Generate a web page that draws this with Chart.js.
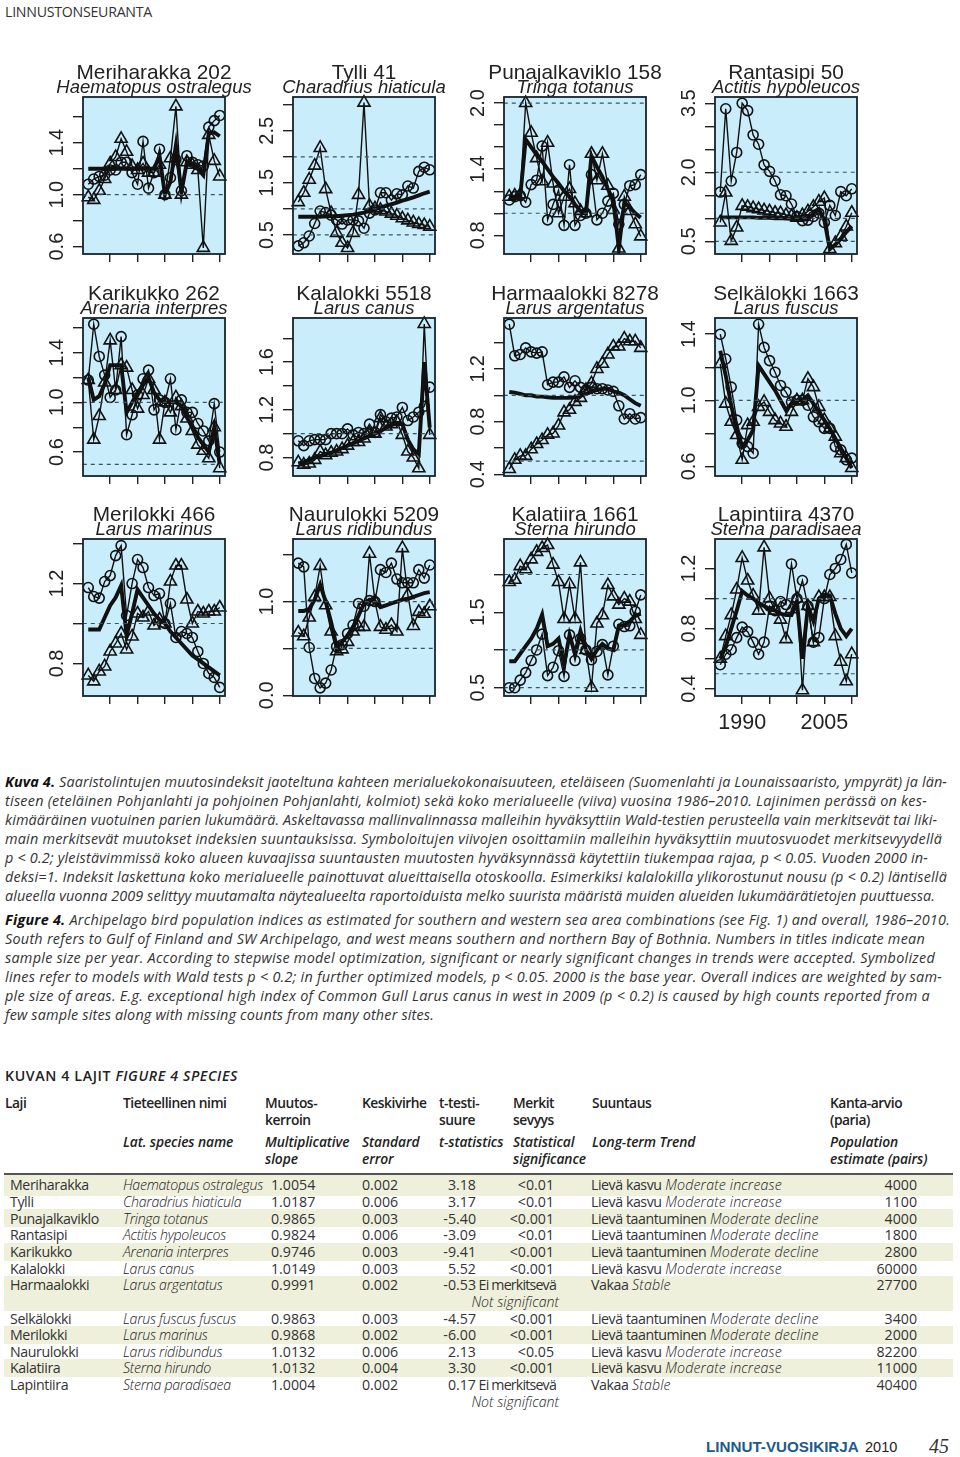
<!DOCTYPE html>
<html>
<head>
<meta charset="utf-8">
<script src="https://cdn.jsdelivr.net/npm/chart.js@4"></script>
<style>
  html, body { margin: 0; padding: 0; background: #fff; }
  #page { position: relative; width: 960px; height: 1457px; overflow: hidden; background: #fff; }
  #page canvas { position: absolute; }
  .t { position: absolute; white-space: nowrap; font-family: "Open Sans", sans-serif; color: #333; transform: translateY(-50%); line-height: 1; }
  .r { transform: translate(-100%, -50%); }
  .cap { font-size: 14.4px; font-style: italic; font-weight: 400; color: #333; }
  .cap b { font-weight: 700; color: #111; }
  .cell { font-size: 14.2px; color: #333; }
  .name { letter-spacing: -0.4px; }
  .it { font-style: italic; font-weight: 300; color: #222; }
  .latin { letter-spacing: -0.3px; }
  .tr-fi { letter-spacing: -0.45px; }
  .tr-en { font-style: italic; font-weight: 300; letter-spacing: 0.15px; color: #222; }
  .sig { letter-spacing: -0.8px; }
  .head { font-size: 13.8px; font-weight: 600; color: #222; letter-spacing: -0.45px; }
  .head i { letter-spacing: -0.1px; }
  .band { position: absolute; left: 4px; width: 949px; background: #eef0dc; }
</style>
</head>
<body>
<div id="page"></div>
<script>
const years = [1986, 1987, 1988, 1989, 1990, 1991, 1992, 1993, 1994, 1995, 1996, 1997, 1998, 1999, 2000, 2001, 2002, 2003, 2004, 2005, 2006, 2007, 2008, 2009, 2010];
const xTicks = [1990, 1995, 2000, 2005, 2010];
const xLabels = ['1990', '2005'];

const panelNames = ['Meriharakka 202', 'Tylli 41', 'Punajalkaviklo 158', 'Rantasipi 50', 'Karikukko 262', 'Kalalokki 5518', 'Harmaalokki 8278', 'Selkälokki 1663', 'Merilokki 466', 'Naurulokki 5209', 'Kalatiira 1661', 'Lapintiira 4370'];
const panelLatin = ['Haematopus ostralegus', 'Charadrius hiaticula', 'Tringa totanus', 'Actitis hypoleucos', 'Arenaria interpres', 'Larus canus', 'Larus argentatus', 'Larus fuscus', 'Larus marinus', 'Larus ridibundus', 'Sterna hirundo', 'Sterna paradisaea'];

// circles = south, triangles = west, thick line = overall
const meriharakkaSouth = [1.08, 1.12, 1.14, 1.15, 1.19, 1.19, 1.25, 1.25, 1.17, 1.08, 1.41, 1.05, 1.17, 1.35, 1.0, 1.13, 1.27, 1.03, 1.30, 1.25, 1.23, 1.22, 1.52, 1.57, 1.61];
const meriharakkaWest = [0.98, 0.96, 1.03, 1.12, 1.24, 1.29, 1.43, 1.33, 1.22, 1.19, 1.24, 1.17, 1.17, 1.23, 1.0, 1.28, 1.68, 1.0, 1.25, 1.23, 1.19, 0.59, 1.46, 1.26, 1.14];
const meriharakkaAll = [1.2, 1.2, 1.2, 1.2, 1.2, 1.2, 1.2, 1.2, 1.2, 1.2, 1.2, 1.2, 1.2, 1.3, 1.0, 1.1, 1.38, 1.02, 1.25, 1.23, 1.2, 1.15, 1.47, 1.48, 1.45];

const tylliSouth = [0.29, 0.35, 0.48, 0.72, 0.96, 0.93, 0.88, 0.79, 0.71, 0.79, 0.79, 0.77, 0.63, 0.92, 0.98, 1.31, 1.31, 1.17, 1.29, 1.27, 1.44, 1.40, 1.72, 1.80, 1.75];
const tylliWest = [1.13, 1.31, 1.56, 1.83, 2.17, 1.38, 0.92, 0.54, 0.35, 0.25, 0.54, 1.27, 3.04, 1.06, 1.01, 0.98, 0.95, 0.91, 0.87, 0.82, 0.78, 0.74, 0.71, 0.69, 0.66];
const tylliAll = [0.85, 0.85, 0.85, 0.85, 0.85, 0.86, 0.86, 0.86, 0.87, 0.88, 0.89, 0.91, 0.93, 0.96, 0.99, 1.03, 1.06, 1.09, 1.12, 1.16, 1.19, 1.22, 1.26, 1.3, 1.33];

const punajalkaSouth = [1.12, 1.15, 1.16, 1.10, 1.26, 1.30, 1.61, 0.94, 1.08, 1.21, 0.89, 1.44, 0.89, 0.98, 1.0, 1.35, 0.94, 1.0, 1.11, 1.18, 0.9, 1.08, 1.25, 1.26, 1.35];
const punajalkaWest = [1.15, 1.16, 1.17, 2.0, 1.73, 1.5, 1.29, 1.64, 1.27, 1.0, 1.15, 1.22, 1.09, 1.02, 1.0, 1.54, 1.30, 1.54, 1.25, 1.03, 0.68, 1.15, 1.02, 0.9, 0.79];
const punajalkaAll = [1.15, 1.15, 1.15, 1.67, 1.6, 1.53, 1.47, 1.4, 1.33, 1.27, 1.2, 1.15, 1.08, 1.02, 1.0, 1.52, 1.42, 1.33, 1.22, 1.12, 0.68, 1.1, 1.05, 1.0, 0.96];

const rantasipiSouth = [1.57, 3.38, 1.81, 2.43, 3.5, 3.34, 2.81, 2.61, 2.16, 2.02, 1.81, 1.51, 1.49, 1.31, 1.04, 0.95, 0.96, 1.04, 1.11, 0.91, 1.28, 1.06, 1.58, 1.49, 1.64];
const rantasipiWest = [0.91, 1.56, 0.51, 0.8, 1.27, 1.25, 1.22, 1.2, 1.17, 1.15, 1.12, 1.11, 1.07, 1.05, 1.01, 1.07, 1.15, 1.25, 1.36, 1.44, 0.33, 0.46, 0.6, 0.82, 1.12];
const rantasipiAll = [1.02, 1.02, 1.02, 1.02, 1.02, 1.02, 1.02, 1.01, 1.01, 1.01, 1.0, 1.0, 1.0, 0.99, 0.98, 0.97, 0.97, 1.1, 1.2, 0.96, 0.33, 0.43, 0.55, 0.7, 0.83];

const karikukkoSouth = [1.18, 1.63, 1.37, 1.22, 1.04, 1.10, 1.53, 0.74, 0.9, 1.06, 1.19, 1.26, 0.94, 1.02, 1.0, 1.19, 0.78, 1.02, 0.92, 0.92, 0.83, 0.77, 0.69, 0.99, 0.6];
const karikukkoWest = [1.18, 0.7, 0.89, 1.16, 1.5, 1.1, 1.3, 1.28, 1.1, 0.95, 1.06, 1.19, 1.1, 0.7, 1.0, 0.92, 1.04, 0.97, 0.87, 0.77, 0.66, 0.61, 0.55, 0.8, 0.47];
const karikukkoAll = [1.2, 1.02, 1.05, 1.15, 1.3, 1.3, 1.3, 0.92, 1.0, 1.08, 1.14, 1.2, 1.08, 1.02, 1.0, 1.0, 1.0, 0.97, 0.88, 0.8, 0.72, 0.66, 0.6, 0.8, 0.5];

const kalalokkiSouth = [0.94, 0.9, 0.94, 0.95, 0.95, 0.95, 1.0, 1.0, 1.0, 1.04, 0.99, 1.01, 1.0, 1.08, 1.01, 1.16, 1.1, 1.13, 1.14, 1.22, 1.11, 1.14, 1.18, 1.23, 1.39];
const kalalokkiWest = [0.76, 0.74, 0.75, 0.78, 0.85, 0.82, 0.84, 0.85, 0.87, 0.9, 0.93, 0.93, 0.96, 1.0, 1.0, 1.13, 1.06, 1.08, 1.1, 0.99, 0.85, 0.8, 0.71, 1.92, 0.99];
const kalalokkiAll = [0.75, 0.76, 0.78, 0.8, 0.81, 0.83, 0.84, 0.86, 0.88, 0.9, 0.92, 0.94, 0.96, 0.98, 1.0, 1.02, 1.05, 1.07, 1.09, 1.08, 0.95, 0.87, 0.83, 1.6, 1.05];

const harmaalokkiSouth = [1.54, 1.3, 1.31, 1.36, 1.33, 1.32, 1.33, 1.08, 1.1, 1.1, 1.14, 1.06, 1.11, 1.06, 1.04, 1.06, 1.05, 1.05, 1.04, 1.03, 0.92, 0.82, 0.86, 0.82, 0.83];
const harmaalokkiWest = [0.44, 0.51, 0.54, 0.54, 0.59, 0.63, 0.66, 0.7, 0.71, 0.77, 0.87, 0.89, 0.95, 0.98, 1.04, 1.09, 1.2, 1.24, 1.31, 1.37, 1.37, 1.43, 1.41, 1.41, 1.36];
const harmaalokkiAll = [1.025, 1.02, 1.01, 1.0, 1.0, 0.99, 0.99, 0.985, 0.98, 0.98, 0.98, 0.98, 0.985, 0.995, 1.01, 1.03, 1.04, 1.05, 1.05, 1.03, 1.02, 1.0, 0.97, 0.94, 0.92];

const selkalokkiSouth = [1.4, 1.25, 1.08, 0.88, 0.74, 0.72, 0.68, 1.46, 1.32, 1.24, 1.17, 1.09, 1.05, 0.99, 1.0, 1.0, 0.97, 0.9, 0.87, 0.83, 0.83, 0.72, 0.7, 0.64, 0.65];
const selkalokkiWest = [1.22, 0.98, 0.87, 0.79, 0.64, 0.85, 0.87, 0.96, 0.99, 0.93, 0.88, 0.86, 0.84, 0.93, 1.0, 1.0, 1.13, 1.08, 0.96, 0.88, 0.83, 0.78, 0.68, 0.65, 0.59];
const selkalokkiAll = [1.3, 1.15, 0.97, 0.82, 0.72, 0.76, 0.82, 1.21, 1.16, 1.11, 1.06, 1.0, 0.94, 0.98, 1.0, 1.0, 1.03, 0.98, 0.93, 0.88, 0.83, 0.77, 0.71, 0.65, 0.59];

const merilokkiSouth = [1.18, 1.135, 1.127, 1.21, 1.24, 1.34, 1.39, 1.04, 1.2, 1.32, 1.28, 1.18, 1.14, 1.15, 1.0, 1.1, 0.93, 0.96, 0.95, 0.93, 0.86, 0.8, 0.75, 0.73, 0.68];
const merilokkiWest = [0.74, 0.71, 0.76, 0.785, 0.86, 0.9, 0.95, 0.87, 0.935, 1.05, 1.03, 1.06, 0.99, 1.02, 1.0, 1.21, 1.29, 1.29, 1.12, 1.0, 1.06, 1.05, 1.06, 1.06, 1.08];
const merilokkiAll = [0.97, 0.97, 0.97, 1.03, 1.09, 1.13, 1.19, 0.94, 1.05, 1.17, 1.13, 1.09, 1.05, 1.02, 1.0, 0.96, 0.93, 0.9, 0.87, 0.84, 0.82, 0.8, 0.78, 0.76, 0.74];

const naurulokkiSouth = [1.41, 1.37, 0.51, 0.18, 0.08, 0.13, 0.27, 0.52, 0.54, 0.66, 0.75, 0.98, 0.95, 1.01, 1.0, 1.34, 1.31, 1.41, 1.24, 1.2, 1.2, 1.2, 1.34, 1.25, 1.39];
const naurulokkiWest = [0.67, 0.63, 0.83, 1.05, 1.38, 0.96, 0.68, 0.47, 0.49, 0.57, 0.68, 0.73, 0.73, 1.51, 1.0, 0.73, 0.7, 0.75, 0.68, 1.57, 1.07, 0.74, 0.89, 0.87, 0.95];
const naurulokkiAll = [0.9, 0.9, 0.92, 1.02, 1.18, 1.0, 0.78, 0.52, 0.57, 0.64, 0.72, 0.85, 0.98, 1.02, 1.0, 0.94, 0.96, 0.98, 1.0, 1.02, 1.03, 1.05, 1.07, 1.09, 1.1];

const kalatiiraSouth = [0.5, 0.5, 0.6, 0.7, 0.86, 1.0, 1.21, 0.66, 0.77, 0.99, 0.65, 1.2, 0.86, 1.15, 1.0, 0.87, 0.98, 1.07, 0.67, 1.05, 1.34, 1.31, 1.32, 1.51, 1.73];
const kalatiiraWest = [1.9, 1.93, 2.11, 2.07, 2.2, 2.3, 2.35, 2.39, 2.13, 1.9, 1.41, 1.87, 1.41, 2.16, 1.0, 0.5, 1.35, 1.46, 1.86, 1.71, 1.6, 1.68, 1.64, 1.41, 1.2];
const kalatiiraAll = [0.85, 0.85, 0.95, 1.05, 1.15, 1.28, 1.47, 1.05, 1.08, 1.15, 0.8, 1.2, 0.95, 1.25, 1.0, 0.88, 1.0, 1.08, 1.02, 1.0, 1.32, 1.33, 1.38, 1.45, 1.48];

const lapintiiraSouth = [0.56, 0.63, 0.66, 0.74, 0.81, 0.78, 0.71, 0.63, 0.71, 0.95, 0.92, 0.98, 0.96, 1.23, 1.0, 1.12, 0.95, 0.71, 0.74, 1.0, 1.16, 1.2, 1.26, 1.36, 1.17];
const lapintiiraWest = [0.6, 0.75, 0.89, 1.06, 1.27, 1.12, 1.02, 0.92, 1.34, 1.0, 0.92, 0.86, 0.73, 0.93, 1.0, 0.39, 0.95, 0.71, 1.01, 1.01, 1.01, 0.75, 0.58, 0.45, 0.63];
const lapintiiraAll = [0.6, 0.68, 0.8, 0.92, 1.05, 1.02, 1.0, 0.97, 0.95, 0.93, 0.92, 0.9, 0.89, 0.89, 0.98, 0.6, 0.95, 0.85, 1.0, 1.02, 1.02, 0.9, 0.8, 0.75, 0.8];

const southSeries = [meriharakkaSouth, tylliSouth, punajalkaSouth, rantasipiSouth, karikukkoSouth, kalalokkiSouth, harmaalokkiSouth, selkalokkiSouth, merilokkiSouth, naurulokkiSouth, kalatiiraSouth, lapintiiraSouth];
const westSeries = [meriharakkaWest, tylliWest, punajalkaWest, rantasipiWest, karikukkoWest, kalalokkiWest, harmaalokkiWest, selkalokkiWest, merilokkiWest, naurulokkiWest, kalatiiraWest, lapintiiraWest];
const allSeries = [meriharakkaAll, tylliAll, punajalkaAll, rantasipiAll, karikukkoAll, kalalokkiAll, harmaalokkiAll, selkalokkiAll, merilokkiAll, naurulokkiAll, kalatiiraAll, lapintiiraAll];

const yMins = [0.543, 0.135, 0.63, 0.224, 0.407, 0.645, 0.387, 0.542, 0.637, -0.007, 0.39, 0.352];
const yMaxs = [1.752, 3.147, 2.055, 3.635, 1.68, 1.97, 1.587, 1.498, 1.423, 1.667, 2.47, 1.396];
const yTicks = [
  [0.6, 0.8, 1.0, 1.2, 1.4, 1.6],
  [0.5, 1.0, 1.5, 2.0, 2.5, 3.0],
  [0.8, 1.0, 1.2, 1.4, 1.6, 1.8, 2.0],
  [0.5, 1.0, 1.5, 2.0, 2.5, 3.0, 3.5],
  [0.6, 0.8, 1.0, 1.2, 1.4, 1.6],
  [0.8, 1.0, 1.2, 1.4, 1.6, 1.8],
  [0.4, 0.6, 0.8, 1.0, 1.2, 1.4],
  [0.6, 0.8, 1.0, 1.2, 1.4],
  [0.8, 1.0, 1.2, 1.4],
  [0.0, 0.5, 1.0, 1.5],
  [0.5, 1.0, 1.5, 2.0],
  [0.4, 0.6, 0.8, 1.0, 1.2]
];
const yLabels = [
  ['0.6', '1.0', '1.4'], ['0.5', '1.5', '2.5'], ['0.8', '1.4', '2.0'], ['0.5', '2.0', '3.5'],
  ['0.6', '1.0', '1.4'], ['0.8', '1.2', '1.6'], ['0.4', '0.8', '1.2'], ['0.6', '1.0', '1.4'],
  ['0.8', '1.2'], ['0.0', '1.0'], ['0.5', '1.5'], ['0.4', '0.8', '1.2']
];
const refLevels = [0.5, 1, 2];

// table
const speciesNames = ['Meriharakka', 'Tylli', 'Punajalkaviklo', 'Rantasipi', 'Karikukko', 'Kalalokki', 'Harmaalokki', 'Selkälokki', 'Merilokki', 'Naurulokki', 'Kalatiira', 'Lapintiira'];
const latinNames = ['Haematopus ostralegus', 'Charadrius hiaticula', 'Tringa totanus', 'Actitis hypoleucos', 'Arenaria interpres', 'Larus canus', 'Larus argentatus', 'Larus fuscus fuscus', 'Larus marinus', 'Larus ridibundus', 'Sterna hirundo', 'Sterna paradisaea'];
const slopes = ['1.0054', '1.0187', '0.9865', '0.9824', '0.9746', '1.0149', '0.9991', '0.9863', '0.9868', '1.0132', '1.0132', '1.0004'];
const stdErrors = ['0.002', '0.006', '0.003', '0.006', '0.003', '0.003', '0.002', '0.003', '0.002', '0.006', '0.004', '0.002'];
const tStats = ['3.18', '3.17', '-5.40', '-3.09', '-9.41', '5.52', '-0.53', '-4.57', '-6.00', '2.13', '3.30', '0.17'];
const pValues = ['<0.01', '<0.01', '<0.001', '<0.01', '<0.001', '<0.001', 'Ei merkitsevä', '<0.001', '<0.001', '<0.05', '<0.001', 'Ei merkitsevä'];
const trendFi = ['Lievä kasvu', 'Lievä kasvu', 'Lievä taantuminen', 'Lievä taantuminen', 'Lievä taantuminen', 'Lievä kasvu', 'Vakaa', 'Lievä taantuminen', 'Lievä taantuminen', 'Lievä kasvu', 'Lievä kasvu', 'Vakaa'];
const trendEn = ['Moderate increase', 'Moderate increase', 'Moderate decline', 'Moderate decline', 'Moderate decline', 'Moderate increase', 'Stable', 'Moderate decline', 'Moderate decline', 'Moderate increase', 'Moderate increase', 'Stable'];
const populations = ['4000', '1100', '4000', '1800', '2800', '60000', '27700', '3400', '2000', '82200', '11000', '40400'];

const headerFi = [['Laji'], ['Tieteellinen nimi'], ['Muutos-', 'kerroin'], ['Keskivirhe'], ['t-testi-', 'suure'], ['Merkit', 'sevyys'], ['Suuntaus'], ['Kanta-arvio', '(paria)']];
const headerEn = [[], ['Lat. species name'], ['Multiplicative', 'slope'], ['Standard', 'error'], ['t-statistics'], ['Statistical', 'significance'], ['Long-term Trend'], ['Population', 'estimate (pairs)']];

const captionLines = [
  '<b>Kuva 4.</b> Saaristolintujen muutosindeksit jaoteltuna kahteen merialuekokonaisuuteen, eteläiseen (Suomenlahti ja Lounaissaaristo, ympyrät) ja län-',
  'tiseen (eteläinen Pohjanlahti ja pohjoinen Pohjanlahti, kolmiot) sekä koko merialueelle (viiva) vuosina 1986–2010. Lajinimen perässä on kes-',
  'kimääräinen vuotuinen parien lukumäärä. Askeltavassa mallinvalinnassa malleihin hyväksyttiin Wald-testien perusteella vain merkitsevät tai liki-',
  'main merkitsevät muutokset indeksien suuntauksissa. Symboloitujen viivojen osoittamiin malleihin hyväksyttiin muutosvuodet merkitsevyydellä',
  'p &lt; 0.2; yleistävimmissä koko alueen kuvaajissa suuntausten muutosten hyväksynnässä käytettiin tiukempaa rajaa, p &lt; 0.05. Vuoden 2000 in-',
  'deksi=1. Indeksit laskettuna koko merialueelle painottuvat alueittaisella otoskoolla. Esimerkiksi kalalokilla ylikorostunut nousu (p &lt; 0.2) läntisellä',
  'alueella vuonna 2009 selittyy muutamalta näytealueelta raportoiduista melko suurista määristä muiden alueiden lukumäärätietojen puuttuessa.',
  '<b>Figure 4.</b> Archipelago bird population indices as estimated for southern and western sea area combinations (see Fig. 1) and overall, 1986–2010.',
  'South refers to Gulf of Finland and SW Archipelago, and west means southern and northern Bay of Bothnia. Numbers in titles indicate mean',
  'sample size per year. According to stepwise model optimization, significant or nearly significant changes in trends were accepted. Symbolized',
  'lines refer to models with Wald tests p &lt; 0.2; in further optimized models, p &lt; 0.05. 2000 is the base year. Overall indices are weighted by sam-',
  'ple size of areas. E.g. exceptional high index of Common Gull Larus canus in west in 2009 (p &lt; 0.2) is caused by high counts reported from a',
  'few sample sites along with missing counts from many other sites.'
];
const captionY = [782, 801, 820, 839, 858, 877, 896, 920, 939, 958, 977, 996, 1015];
const captionRight = [947, 927, 937, 942, 928, 947, 935, 950, 925, 935, 942, 930, 434];

const page = document.getElementById('page');

function addText(x, y, html, cls, rightEdge) {
  const el = document.createElement('div');
  el.className = 't ' + cls;
  el.style.left = x + 'px';
  el.style.top = y + 'px';
  el.innerHTML = html;
  page.appendChild(el);
  if (rightEdge) {
    // squeeze or stretch the line to the width it has in print
    const w = el.getBoundingClientRect().width;
    el.style.letterSpacing = ((rightEdge - x - w) / el.textContent.length) + 'px';
  }
  return el;
}

// ----- charts -----
const plotLefts = [83, 293, 504, 715];
const plotTops = [97, 318, 539];
const plotHeights = [157, 158, 157];
const plotWidth = 142;
const sideGap = 45;
const titleGap = 32;
const bottomGap = 44;

const panelFrame = {
  id: 'panelFrame',
  beforeDraw(chart) {
    const a = chart.chartArea;
    chart.ctx.save();
    chart.ctx.fillStyle = '#c9edfb';
    chart.ctx.fillRect(a.left, a.top, a.width, a.height);
    chart.ctx.restore();
  },
  afterDatasetsDraw(chart) {
    const a = chart.chartArea;
    chart.ctx.save();
    chart.ctx.strokeStyle = '#16242c';
    chart.ctx.lineWidth = 1.8;
    chart.ctx.strokeRect(a.left, a.top, a.width, a.height);
    chart.ctx.restore();
  }
};

// Chart.js will not rotate y tick labels, so they get drawn here from the scale
const rotatedLabels = {
  id: 'rotatedLabels',
  afterDraw(chart, args, opts) {
    const ctx = chart.ctx;
    const scale = chart.scales.y;
    ctx.save();
    ctx.fillStyle = '#222';
    ctx.font = '20px "Liberation Sans"';
    ctx.textAlign = 'center';
    ctx.textBaseline = 'middle';
    opts.labels.forEach(label => {
      ctx.save();
      ctx.translate(chart.chartArea.left - 26, scale.getPixelForValue(Number(label)));
      ctx.rotate(-Math.PI / 2);
      ctx.fillText(label, 0, 0);
      ctx.restore();
    });
    ctx.restore();
  }
};

function toPoints(values) {
  return values.map((v, i) => ({ x: years[i], y: v }));
}

function drawPanel(i) {
  const col = i % 4;
  const row = Math.floor(i / 4);
  const canvas = document.createElement('canvas');
  canvas.width = sideGap * 2 + plotWidth;
  canvas.height = titleGap + plotHeights[row] + bottomGap;
  canvas.style.left = (plotLefts[col] - sideGap) + 'px';
  canvas.style.top = (plotTops[row] - titleGap) + 'px';
  page.appendChild(canvas);

  const refSets = refLevels.filter(v => v > yMins[i] && v < yMaxs[i]).map(v => ({
    data: [{ x: 1985, y: v }, { x: 2011, y: v }],
    borderColor: '#3a5560',
    borderWidth: 1.2,
    borderDash: [4, 4],
    pointRadius: 0
  }));

  new Chart(canvas, {
    type: 'line',
    data: {
      datasets: refSets.concat([
        { label: 'South', data: toPoints(southSeries[i]), borderColor: '#111', borderWidth: 1.4, pointStyle: 'circle', pointRadius: 5, pointBorderWidth: 1.6, pointBorderColor: '#111', pointBackgroundColor: 'transparent', clip: false },
        { label: 'West', data: toPoints(westSeries[i]), borderColor: '#111', borderWidth: 1.4, pointStyle: 'triangle', pointRadius: 7, pointBorderWidth: 1.6, pointBorderColor: '#111', pointBackgroundColor: 'transparent', clip: false },
        { label: 'Overall', data: toPoints(allSeries[i]), borderColor: '#111', borderWidth: 3.9, pointRadius: 0 }
      ])
    },
    options: {
      responsive: false,
      animation: false,
      scales: {
        x: {
          type: 'linear',
          min: 1985.04,
          max: 2010.96,
          afterBuildTicks: s => { s.ticks = xTicks.map(v => ({ value: v })); },
          afterFit: s => { s.height = bottomGap; },
          border: { display: false },
          grid: { drawOnChartArea: false, tickLength: 8, color: '#222', lineWidth: 1.4 },
          ticks: {
            display: i === 11,
            maxRotation: 0,
            autoSkip: false,
            padding: 6,
            color: '#222',
            font: { family: '"Liberation Sans"', size: 21.5 },
            callback: v => (xLabels.includes(String(v)) ? String(v) : '')
          }
        },
        y: {
          min: yMins[i],
          max: yMaxs[i],
          afterBuildTicks: s => { s.ticks = yTicks[i].map(v => ({ value: v })); },
          afterFit: s => { s.width = sideGap; },
          border: { display: false },
          grid: { drawOnChartArea: false, tickLength: 10, color: '#222', lineWidth: 1.4 },
          ticks: { display: false }
        },
        // empty axis on the right keeps the plot in the middle of the canvas, under its title
        spacer: {
          position: 'right',
          afterFit: s => { s.width = sideGap; },
          border: { display: false },
          grid: { display: false },
          ticks: { display: false }
        }
      },
      plugins: {
        legend: { display: false },
        tooltip: { enabled: false },
        title: {
          display: true,
          text: panelNames[i],
          color: '#222',
          padding: 0,
          font: { family: '"Liberation Sans"', size: 20.8, weight: 'normal', lineHeight: '16px' }
        },
        subtitle: {
          display: true,
          text: panelLatin[i],
          color: '#222',
          padding: { top: 0, bottom: 2 },
          font: { family: '"Liberation Sans"', size: 18.5, style: 'italic', weight: 'normal', lineHeight: '14px' }
        },
        rotatedLabels: { labels: yLabels[i] }
      }
    },
    plugins: [panelFrame, rotatedLabels]
  });
}

panelNames.forEach((name, i) => drawPanel(i));

// ----- page text -----
addText(5, 12, 'LINNUSTONSEURANTA', 'cell', 152);

captionLines.forEach((line, i) => addText(5, captionY[i], line, 'cap', captionRight[i]));

addText(5, 1076, '<span style="font-weight:600;color:#222">KUVAN 4 LAJIT <i>FIGURE 4 SPECIES</i></span>', 'cell', 238);

// ----- table -----
const headerX = [5, 123, 265, 362, 439, 513, 592, 830];
const headerFiY = [1103, 1120];
const headerEnY = [1141.5, 1158.5];
headerFi.forEach((lines, c) => lines.forEach((s, l) => addText(headerX[c], headerFiY[l], s, 'head')));
headerEn.forEach((lines, c) => lines.forEach((s, l) => addText(headerX[c], headerEnY[l], '<i>' + s + '</i>', 'head')));

const bandTops = [1175, 1209, 1243, 1276, 1326, 1359];
const bandBottoms = [1196, 1227, 1261, 1311, 1344, 1377];
bandTops.forEach((top, i) => {
  const band = document.createElement('div');
  band.className = 'band';
  band.style.top = top + 'px';
  band.style.height = (bandBottoms[i] - top) + 'px';
  page.appendChild(band);
});
const rule = document.createElement('div');
rule.style.cssText = 'position:absolute;left:4px;top:1173px;width:949px;height:2px;background:#555';
page.appendChild(rule);

const rowY = [1185, 1201.5, 1218.5, 1235, 1251.5, 1268.5, 1285, 1318.5, 1335, 1352, 1368, 1385];
speciesNames.forEach((name, i) => {
  const y = rowY[i];
  const isP = pValues[i].startsWith('<');
  addText(10, y, name, 'cell name');
  addText(123, y, latinNames[i], 'cell it latin');
  addText(271, y, slopes[i], 'cell');
  addText(362, y, stdErrors[i], 'cell');
  addText(476, y, tStats[i], 'cell r');
  addText(isP ? 554 : 556, y, pValues[i].replace('<', '&lt;'), isP ? 'cell r' : 'cell r sig');
  if (!isP) addText(559, y + 17, 'Not significant', 'cell it r');
  addText(591, y, '<span class="tr-fi">' + trendFi[i] + '</span> <span class="tr-en">' + trendEn[i] + '</span>', 'cell');
  addText(917, y, populations[i], 'cell r');
});

// ----- footer -----
addText(706, 1447, '<b style="font-family:\'Liberation Sans\';color:#1c5a8c;font-size:15.2px">LINNUT-VUOSIKIRJA</b>', 'cell');
addText(865, 1447, '<span style="font-family:\'Liberation Sans\';font-size:14.5px;color:#222">2010</span>', 'cell');
addText(929, 1446, '<i style="font-family:\'Liberation Serif\';font-size:20px;color:#333">45</i>', 'cell');
</script>
</body>
</html>
